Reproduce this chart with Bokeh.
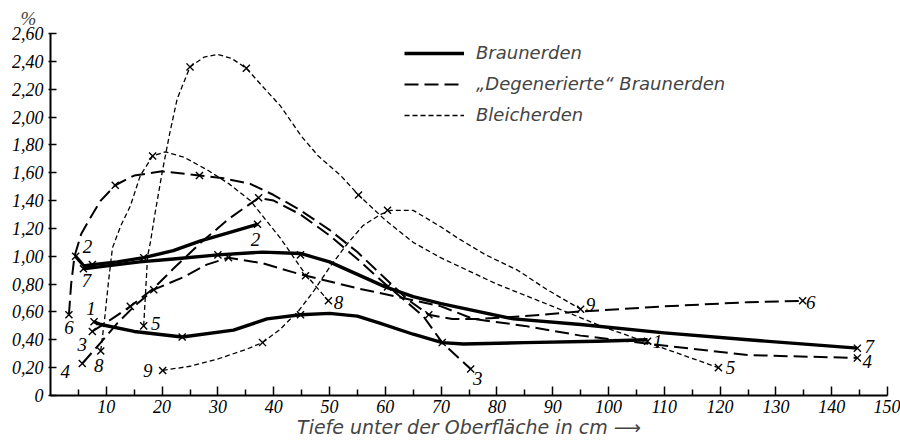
from bokeh.plotting import figure
from bokeh.models import (Range1d, FixedTicker, CustomJSTickFormatter, Legend,
                          LegendItem)
from bokeh.core.properties import value
from bokeh.embed import file_html
from bokeh.resources import INLINE

FONT = "DejaVu Sans"
NUM_FONT = "Liberation Sans Narrow"

# ---------------- data ----------------
# axis ticks
x_ticks = [10, 20, 30, 40, 50, 60, 70, 80, 90, 100, 110, 120, 130, 140, 150]
x_minor = [5, 15, 25, 35, 45, 55, 65, 75, 85, 95, 105, 115, 125, 135, 145]
y_ticks = [0, 0.2, 0.4, 0.6, 0.8, 1.0, 1.2, 1.4, 1.6, 1.8, 2.0, 2.2, 2.4, 2.6]

legend_labels = ["Braunerden", "\u201eDegenerierte\u201c Braunerden", "Bleicherden"]

# curve 1 (Braunerde)
c1_x = [7.8, 9, 15, 23.6, 32.8, 38.8, 44.8, 50, 55, 59, 65, 70.2, 74, 85, 98, 107]
c1_y = [0.53, 0.51, 0.46, 0.42, 0.47, 0.55, 0.58, 0.59, 0.57, 0.52, 0.44, 0.38, 0.37, 0.38, 0.39, 0.40]
c1_mx = [7.8, 23.6, 44.8, 70.2, 107]
c1_my = [0.53, 0.42, 0.58, 0.38, 0.39]

# curve 2 (Braunerde)
c2_x = [4.5, 6, 7.5, 12, 16.7, 22, 26.9, 32, 37.1]
c2_y = [1.00, 0.93, 0.94, 0.96, 0.99, 1.04, 1.11, 1.17, 1.23]
c2_mx = [4.5, 7.5, 16.7, 37.1]
c2_my = [1.00, 0.94, 0.99, 1.23]

# curve 3 ("degenerierte" Braunerde)
c3_x = [7.5, 11, 14.3, 18.5, 22, 27, 32, 37.3, 40, 44.8, 50, 55, 60, 62.7, 66.8, 70.2, 75.3]
c3_y = [0.46, 0.55, 0.64, 0.77, 0.91, 1.10, 1.27, 1.42, 1.40, 1.30, 1.15, 0.98, 0.80, 0.71, 0.57, 0.38, 0.19]
c3_mx = [7.5, 14.3, 37.3, 75.3]
c3_my = [0.46, 0.64, 1.42, 0.19]

# curve 4 ("degenerierte" Braunerde)
c4_x = [5.7, 9, 12, 15, 18.5, 23.8, 28, 31.9, 38, 44.8, 55, 62, 70, 75.8, 85, 95, 107.5, 125, 144.6]
c4_y = [0.23, 0.38, 0.52, 0.64, 0.76, 0.85, 0.94, 0.99, 0.95, 0.87, 0.77, 0.71, 0.64, 0.55, 0.50, 0.43, 0.37, 0.29, 0.27]
c4_mx = [5.7, 18.5, 31.9, 45.7, 144.6]
c4_my = [0.23, 0.76, 0.99, 0.86, 0.27]

# curve 5 (Bleicherde)
c5_x = [16.7, 17.4, 17.9, 18.7, 20, 21.3, 22.7, 25, 27.5, 30, 32.5, 35.1, 38, 41.2, 45, 48, 52, 55.2, 60, 65, 69.9, 80, 90, 98.6, 107, 119.7]
c5_y = [0.50, 1.00, 1.10, 1.30, 1.60, 1.87, 2.13, 2.36, 2.43, 2.45, 2.42, 2.35, 2.22, 2.08, 1.86, 1.72, 1.58, 1.44, 1.26, 1.10, 0.99, 0.80, 0.64, 0.50, 0.38, 0.20]
c5_mx = [16.7, 25, 35.1, 55.2, 119.7]
c5_my = [0.50, 2.36, 2.35, 1.44, 0.20]

# curve 6 ("degenerierte" Braunerde)
c6_x = [3.3, 3.7, 4.3, 5.5, 7.2, 9, 11.6, 15, 20, 26.7, 31, 35.8, 40, 44.8, 50, 55, 60, 64, 67.8, 72, 77, 85, 93.7, 110, 125, 134.8]
c6_y = [0.58, 0.80, 1.00, 1.16, 1.28, 1.40, 1.51, 1.58, 1.61, 1.58, 1.56, 1.52, 1.44, 1.33, 1.19, 1.03, 0.84, 0.69, 0.58, 0.55, 0.55, 0.57, 0.60, 0.64, 0.67, 0.68]
c6_mx = [3.3, 11.6, 26.7, 67.8, 134.8]
c6_my = [0.58, 1.51, 1.58, 0.58, 0.68]

# curve 7 (Braunerde)
c7_x = [5.9, 8, 16, 22, 30, 38, 44.8, 50, 55, 60, 65, 70, 83, 95, 110, 125, 144.6]
c7_y = [0.91, 0.92, 0.96, 0.98, 1.01, 1.03, 1.02, 0.96, 0.87, 0.78, 0.71, 0.66, 0.55, 0.51, 0.45, 0.40, 0.34]
c7_mx = [5.9, 30, 44.8, 60.4, 144.6]
c7_my = [0.91, 1.01, 1.01, 0.78, 0.34]

# curve 8 (Bleicherde)
c8_x = [9, 9.7, 10.4, 11.1, 12.6, 14.3, 16.1, 18.3, 20.6, 24, 28.1, 32, 35.8, 41.2, 45.7, 49.8]
c8_y = [0.32, 0.55, 0.82, 1.06, 1.22, 1.36, 1.58, 1.72, 1.75, 1.71, 1.62, 1.52, 1.40, 1.13, 0.87, 0.68]
c8_mx = [9, 18.3, 49.8]
c8_my = [0.32, 1.72, 0.68]

# curve 9 (Bleicherde)
c9_x = [20.1, 25, 29.8, 35, 38, 41, 44.3, 47, 50, 53.2, 56, 59.1, 61, 65, 70, 73, 78, 83.7, 89, 95]
c9_y = [0.18, 0.21, 0.26, 0.33, 0.38, 0.47, 0.60, 0.74, 0.92, 1.09, 1.22, 1.30, 1.33, 1.33, 1.21, 1.13, 1.01, 0.90, 0.76, 0.62]
c9_mx = [20.1, 38, 60.4, 95]
c9_my = [0.18, 0.38, 1.33, 0.62]

curve_names = ["1", "2", "3", "4", "5", "6", "7", "8", "9"]
curve_group = [0, 0, 1, 1, 2, 1, 0, 2, 2]   # 0 solid, 1 long dash, 2 short dash

# ---------------- styles ----------------
start_dx = [-3, 12, -10, -17, 12, 0, 3, -2, -15]
start_dy = [-13, -10, 13, 8, -2, 13, 12, 15, 0]
end_dx = [10, -2, 7, 10, 12, 8, 12, 10, 10]
end_dy = [0, 15, 9, 4, 0, 2, -2, 2, -5]

group_style = [
    dict(line_width=3.4, line_dash="solid"),
    dict(line_width=2.0, line_dash="14 6"),
    dict(line_width=1.3, line_dash="5 3"),
]

paths = [(c1_x, c1_y), (c2_x, c2_y), (c3_x, c3_y), (c4_x, c4_y), (c5_x, c5_y),
         (c6_x, c6_y), (c7_x, c7_y), (c8_x, c8_y), (c9_x, c9_y)]
marks = [(c1_mx, c1_my), (c2_mx, c2_my), (c3_mx, c3_my), (c4_mx, c4_my), (c5_mx, c5_my),
         (c6_mx, c6_my), (c7_mx, c7_my), (c8_mx, c8_my), (c9_mx, c9_my)]

p = figure(width=900, height=440, output_backend="svg", toolbar_location=None,
           x_range=Range1d(0, 150), y_range=Range1d(0, 2.6),
           min_border_left=50, min_border_right=13, min_border_top=33, min_border_bottom=40)
p.outline_line_color = None
p.xgrid.visible = False
p.ygrid.visible = False
p.background_fill_color = "white"
p.border_fill_color = "white"

# "%" unit above the y axis
p.title.text = "%"
p.title.align = "left"
p.title.offset = -30
p.title.standoff = 9
p.title.text_font = NUM_FONT
p.title.text_font_style = "italic"
p.title.text_font_size = "19px"

group_renderers = {0: [], 1: [], 2: []}
for i, ((px, py), g) in enumerate(zip(paths, curve_group)):
    r = p.line(px, py, line_color="black", line_join="round", **group_style[g])
    group_renderers[g].append(r)

for (mx, my) in marks:
    p.scatter(mx, my, marker="x", size=10, line_color="black", line_width=1.4)

# curve number labels at first and last marked point
lx, ly, lt, ldx, ldy = [], [], [], [], []
for i, (mx, my) in enumerate(marks):
    lx += [mx[0], mx[-1]]
    ly += [my[0], my[-1]]
    lt += [curve_names[i], curve_names[i]]
    ldx += [start_dx[i], end_dx[i]]
    ldy += [start_dy[i], end_dy[i]]
p.text(x=lx, y=ly, text=lt, x_offset=ldx, y_offset=ldy,
       text_font=value(NUM_FONT), text_font_style="italic", text_font_size="19px",
       text_align="center", text_baseline="middle", text_color="black")

# axes
for ax in (p.xaxis[0], p.yaxis[0]):
    ax.axis_line_width = 2
    ax.axis_line_color = "black"
    ax.major_tick_line_color = "black"
    ax.major_tick_line_width = 1.5
    ax.minor_tick_line_color = "black"
    ax.minor_tick_line_width = 1.5
    ax.major_label_text_font = NUM_FONT
    ax.major_label_text_font_style = "italic"
    ax.major_label_text_font_size = "18px"
    ax.major_label_text_color = "black"

p.xaxis.ticker = FixedTicker(ticks=x_ticks, minor_ticks=x_minor)
p.xaxis.major_tick_in = 9
p.xaxis.major_tick_out = 0
p.xaxis.minor_tick_in = 6
p.xaxis.minor_tick_out = 0
p.xaxis.major_label_standoff = 4
p.xaxis.axis_label = "Tiefe unter der Oberfl\u00e4che in cm \u27f6"
p.xaxis.axis_label_text_font = FONT
p.xaxis.axis_label_text_font_style = "italic"
p.xaxis.axis_label_text_font_size = "19px"
p.xaxis.axis_label_standoff = 0

p.yaxis.ticker = FixedTicker(ticks=y_ticks)
p.yaxis.major_tick_in = 6
p.yaxis.major_tick_out = 2
p.yaxis.minor_tick_in = 0
p.yaxis.minor_tick_out = 0
p.yaxis.major_label_standoff = 5
p.yaxis.formatter = CustomJSTickFormatter(code="""
    if (Math.abs(tick) < 1e-9) { return "0"; }
    return tick.toFixed(2).replace(".", ",");
""")

legend = Legend(items=[LegendItem(label=legend_labels[g], renderers=[group_renderers[g][0]])
                       for g in (0, 1, 2)],
                location=(354, 270), orientation="vertical",
                glyph_width=60, glyph_height=20, label_height=20, label_width=60,
                spacing=10, padding=0, margin=0, label_standoff=12,
                label_text_font=FONT, label_text_font_style="italic",
                label_text_font_size="18px",
                border_line_alpha=0, background_fill_alpha=0)
p.add_layout(legend, "center")

open("out.html", "w").write(file_html(p, INLINE))
